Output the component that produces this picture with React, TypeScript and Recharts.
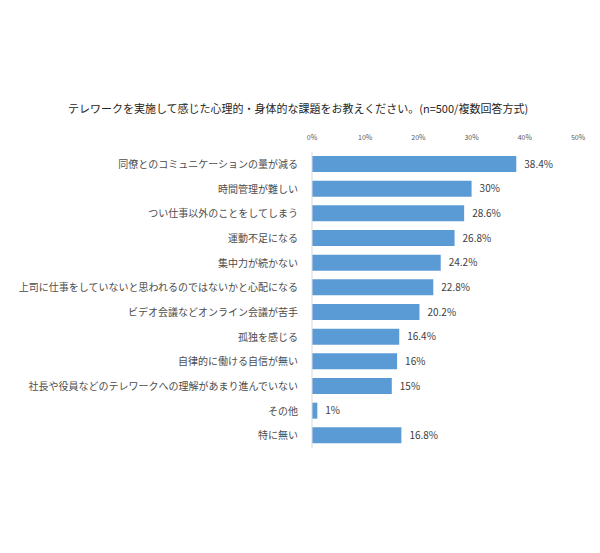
import React from "react";
import { BarChart, Bar, XAxis, YAxis, LabelList } from "recharts";

const categories = [
  "同僚とのコミュニケーションの量が減る",
  "時間管理が難しい",
  "つい仕事以外のことをしてしまう",
  "運動不足になる",
  "集中力が続かない",
  "上司に仕事をしていないと思われるのではないかと心配になる",
  "ビデオ会議などオンライン会議が苦手",
  "孤独を感じる",
  "自律的に働ける自信が無い",
  "社長や役員などのテレワークへの理解があまり進んでいない",
  "その他",
  "特に無い",
];
const values = [38.4, 30, 28.6, 26.8, 24.2, 22.8, 20.2, 16.4, 16, 15, 1, 16.8];
const xTicks = [0, 10, 20, 30, 40, 50];
const title = "テレワークを実施して感じた心理的・身体的な課題をお教えください。(n=500/複数回答方式)";

const data = categories.map((name, i) => ({ name, value: values[i] }));
const FONT = '"Noto Sans CJK JP", "Noto Sans", sans-serif';

export default function App() {
  return (
    <div style={{ position: "absolute", left: 0, top: 0, width: 600, height: 553, background: "#fff", fontFamily: FONT }}>
      <div
        style={{
          position: "absolute",
          left: 0,
          width: 596,
          top: 100,
          textAlign: "center",
          fontSize: 11,
          color: "#262626",
          whiteSpace: "nowrap",
        }}
      >
        {title}
      </div>
      <BarChart
        width={600}
        height={553}
        data={data}
        layout="vertical"
        margin={{ top: 122, right: 22, bottom: 105, left: 0 }}
        style={{ fontFamily: FONT }}
      >
        <XAxis
          type="number"
          orientation="top"
          domain={[0, 50]}
          ticks={xTicks}
          tickFormatter={(v) => `${v}%`}
          axisLine={false}
          tickLine={false}
          tick={{ fontSize: 7, fill: "#595959" }}
          height={30}
          tickMargin={6}
        />
        <YAxis
          type="category"
          dataKey="name"
          width={312}
          axisLine={{ stroke: "#d9d9d9" }}
          tickLine={false}
          tickSize={6}
          tickMargin={8}
          interval={0}
          tick={{ fontSize: 10, fill: "#4d4d4d" }}
        />
        <Bar dataKey="value" fill="#5b9bd5" barSize={16} isAnimationActive={false}>
          <LabelList
            dataKey="value"
            position="right"
            offset={8}
            formatter={(v: any) => `${v}%`}
            style={{ fontSize: 10, fill: "#404040" }}
          />
        </Bar>
      </BarChart>
    </div>
  );
}
